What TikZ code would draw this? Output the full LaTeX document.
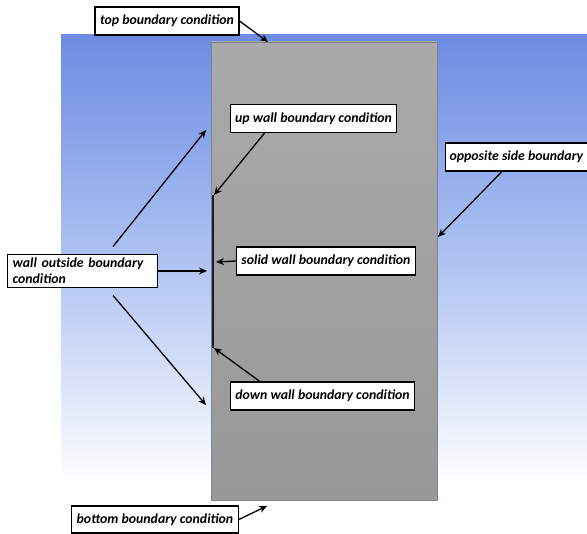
\documentclass[tikz,border=0pt]{standalone}
\usepackage{fontspec}
\setmainfont{Carlito}
\usepackage{tikz}
\usetikzlibrary{arrows.meta, positioning}
\definecolor{skytop}{RGB}{108,140,226}
\definecolor{skymid}{RGB}{175,194,242}
\definecolor{slabtop}{RGB}{170,170,170}
\definecolor{slabbot}{RGB}{152,152,152}
\definecolor{slabedge}{RGB}{125,132,150}
\definecolor{wallcol}{RGB}{25,25,45}
\newcommand{\bclabelsize}{\fontsize{13.8}{16}\selectfont}

\begin{document}
\begin{tikzpicture}[x=1pt,y=-1pt,
    bcbox/.style={draw,fill=white,line width=1.1pt,inner xsep=5pt,minimum height=28pt,font=\bclabelsize\bfseries\itshape},
    bcarrow/.style={-{Stealth[length=8pt,width=7pt]},line width=1.3pt}]
    \useasboundingbox (0,0) rectangle (587,534);
    % background and domain
    \shade[top color=skytop,bottom color=white,middle color=skymid] (61,35) rectangle (587,485);
    \shade[top color=slabtop,bottom color=slabbot,draw=slabedge,line width=0.8pt] (211,42) rectangle (437,500);
    \draw[wallcol,line width=2.2pt] (213,195) -- (213,348);
    % edge points
    \coordinate (topedge) at (268,42);
    \coordinate (botedge) at (267,506);
    \coordinate (upwallend) at (214,195);
    \coordinate (downwallend) at (214,348);
    \coordinate (sideedge) at (438,237);
    \coordinate (solidpt) at (216,262);
    \coordinate (outmid) at (207,271);
    \coordinate (outup) at (206,130);
    \coordinate (outdown) at (206,405);
    % labels
    \node[bcbox] (topbc) at (167,21) {top boundary condition};
    \node[bcbox] (upwall) at (313.5,118.5) {up wall boundary condition};
    \node[bcbox,anchor=west,inner xsep=4pt] (opposite) at (445,157) {opposite side boundary};
    \node[bcbox] (solid) at (326,261) {solid wall boundary condition};
    \node[bcbox,anchor=west,text width=140pt,align=left,inner ysep=4pt] (wallout) at (7,271) {wall outside boundary\\condition};
    \node[bcbox] (downwall) at (322.5,396) {down wall boundary condition};
    \node[bcbox,minimum height=27pt] (botbc) at (155,519.5) {bottom boundary condition};
    % arrows
    \draw[bcarrow] (topbc.east) -- (topedge);
    \draw[bcarrow] (botbc.east) -- (botedge);
    \draw[bcarrow] ([xshift=35pt]upwall.south west) -- (upwallend);
    \draw[bcarrow] ([xshift=57pt]opposite.south west) -- (sideedge);
    \draw[bcarrow] (solid.west) -- (solidpt);
    \draw[bcarrow] (wallout.east) -- (outmid);
    \draw[bcarrow] ([xshift=106pt,yshift=7pt]wallout.north west) -- (outup);
    \draw[bcarrow] ([xshift=106pt,yshift=-7pt]wallout.south west) -- (outdown);
    \draw[bcarrow] ([xshift=30pt]downwall.north west) -- (downwallend);
\end{tikzpicture}
\end{document}
